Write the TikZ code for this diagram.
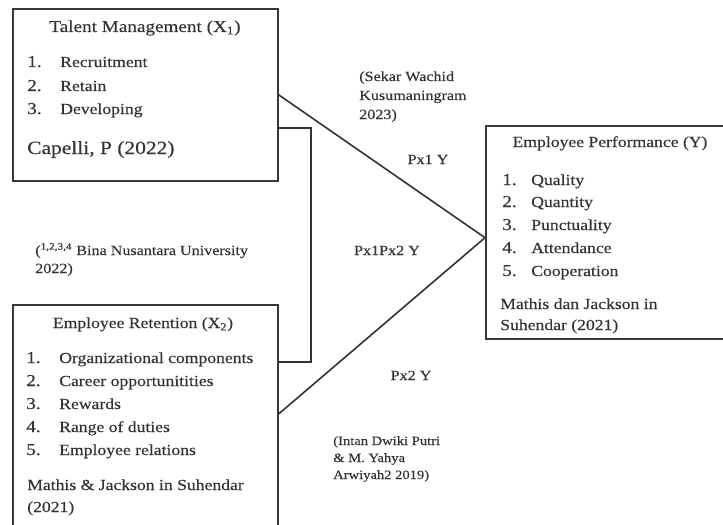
\documentclass[tikz,border=0pt]{standalone}
\usepackage{fontspec}
\setmainfont[FakeStretch=1.15,FakeBold=0.3]{Liberation Serif}
\begin{document}
\begin{tikzpicture}[x=0.75pt,y=-0.75pt,
  box/.style={draw=black!78, line width=1.3pt, rectangle, inner sep=0pt, anchor=north west},
  link/.style={draw=black!80, line width=1.2pt},
  ttl/.style={anchor=base, inner sep=0pt, text=black!80, font=\fontsize{11.5}{13}\selectfont},
  item/.style={anchor=base west, inner sep=0pt, text=black!80, font=\fontsize{11.5}{13}\selectfont},
  num/.style={anchor=base west, inner sep=0pt, text=black!80, font=\fontsize{12.5}{14}\selectfont},
  big/.style={anchor=base west, inner sep=0pt, text=black!80, font=\fontsize{14}{16}\selectfont},
  lbl/.style={anchor=base west, inner sep=0pt, text=black!80, font=\fontsize{10.5}{12}\selectfont},
  slbl/.style={anchor=base west, inner sep=0pt, text=black!80, font=\fontsize{9.5}{11}\selectfont},
  plbl/.style={anchor=base, inner sep=0pt, text=black!80, font=\fontsize{10.5}{12}\selectfont}]
\useasboundingbox (0,0) rectangle (723,524);
\clip (0,0) rectangle (723,524);
\fill[white] (0,0) rectangle (723,524);

% boxes
\node[box, minimum width=198.75pt, minimum height=129pt] (x1) at (12,8) {};
\node[box, minimum width=198.75pt, minimum height=169.5pt] (x2) at (12,304) {};
\node[box, minimum width=191.25pt, minimum height=159.75pt] (y) at (485,125) {};

% connectors
\coordinate (b1) at ([yshift=-24.75pt]x1.east);
\coordinate (b2) at ([yshift=42pt]x2.east);
\coordinate (b3) at ([yshift=3pt]x2.east);
\coordinate (yin) at ([yshift=-4pt]y.west);
\draw[link] (x1.east) -- (yin);
\draw[link] (b3) -- (yin);
\draw[link] (b1) -- (b1 -| 311,0) -- (b2 -| 311,0) -- (b2);

% X1 content
\node[ttl, font=\fontsize{12.5}{14}\selectfont] (t1) at (145,32) {Talent Management (X\textsubscript{1})};
\node[num] (n11) at (27,67) {1.};
\node[item] (i11) at (60,67) {Recruitment};
\node[num] (n12) at (27,91) {2.};
\node[item] (i12) at (60,91) {Retain};
\node[num] (n13) at (27,114) {3.};
\node[item] (i13) at (60,114) {Developing};
\node[big] (c1) at (27,154) {Capelli, P (2022)};

% X2 content
\node[ttl] (t2) at (143,328) {Employee Retention (X\textsubscript{2})};
\node[num] (n21) at (26,363) {1.};
\node[item] (i21) at (59,363) {Organizational components};
\node[num] (n22) at (26,386) {2.};
\node[item] (i22) at (59,386) {Career opportunitities};
\node[num] (n23) at (26,409) {3.};
\node[item] (i23) at (59,409) {Rewards};
\node[num] (n24) at (26,432) {4.};
\node[item] (i24) at (59,432) {Range of duties};
\node[num] (n25) at (26,455) {5.};
\node[item] (i25) at (59,455) {Employee relations};
\node[item] (c21) at (27,490) {Mathis \& Jackson in Suhendar};
\node[item] (c22) at (27,512) {(2021)};

% Y content
\node[ttl] (t3) at (610,147) {Employee Performance (Y)};
\node[num] (n31) at (502,185) {1.};
\node[item] (i31) at (531,185) {Quality};
\node[num] (n32) at (502,207) {2.};
\node[item] (i32) at (531,207) {Quantity};
\node[num] (n33) at (502,230) {3.};
\node[item] (i33) at (531,230) {Punctuality};
\node[num] (n34) at (502,253) {4.};
\node[item] (i34) at (531,253) {Attendance};
\node[num] (n35) at (502,276) {5.};
\node[item] (i35) at (531,276) {Cooperation};
\node[item] (c31) at (500,309) {Mathis dan Jackson in};
\node[item] (c32) at (500,330) {Suhendar (2021)};

% free labels
\node[lbl] (s1) at (359,81) {(Sekar Wachid};
\node[lbl] (s2) at (359,100) {Kusumaningram};
\node[lbl] (s3) at (359,119) {2023)};
\node[plbl] (p1) at (428,164) {Px1 Y};
\node[plbl] (p12) at (387,255) {Px1Px2 Y};
\node[plbl] (p2) at (411,380) {Px2 Y};
\node[lbl] (bn1) at (35,255) {(\textsuperscript{1,2,3,4} Bina Nusantara University};
\node[lbl] (bn2) at (35,273) {2022)};
\node[slbl] (in1) at (333,445) {(Intan Dwiki Putri};
\node[slbl] (in2) at (333,462) {\& M. Yahya};
\node[slbl] (in3) at (333,479) {Arwiyah2 2019)};
\end{tikzpicture}
\end{document}
